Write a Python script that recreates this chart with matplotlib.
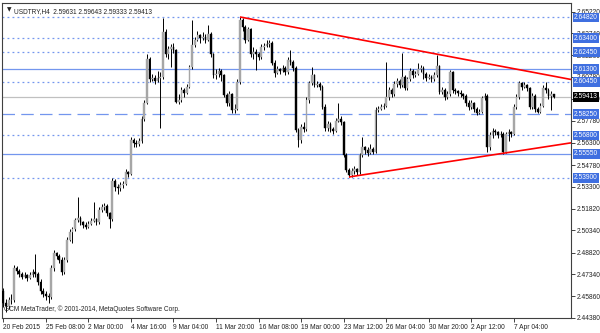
import matplotlib
matplotlib.use("Agg")
import matplotlib.pyplot as plt
import numpy as np

# ---------------- data ----------------
opens = [2.4620, 2.4540, 2.4520, 2.4560, 2.4560, 2.4780, 2.4760, 2.4740, 2.4720, 2.4730,
         2.4710, 2.4730, 2.4750, 2.4740, 2.4680, 2.4620, 2.4600, 2.4590, 2.4580, 2.4780,
         2.4880, 2.4860, 2.4830, 2.4750, 2.4830, 2.4970, 2.5025, 2.5040, 2.5105, 2.5120,
         2.5090, 2.5070, 2.5060, 2.5080, 2.5100, 2.5110, 2.5090, 2.5170, 2.5190, 2.5200,
         2.5150, 2.5110, 2.5370, 2.5330, 2.5320, 2.5340, 2.5350, 2.5430, 2.5420, 2.5650,
         2.5630, 2.5620, 2.5640, 2.5790, 2.5900, 2.6200, 2.6060, 2.6070, 2.6050, 2.6070,
         2.6080, 2.6380, 2.6230, 2.6270, 2.6280, 2.6260, 2.5910, 2.5920, 2.5990, 2.5970,
         2.6010, 2.6145, 2.6295, 2.6330, 2.6360, 2.6340, 2.6350, 2.6330, 2.6370, 2.6230,
         2.6090, 2.6100, 2.6120, 2.6090, 2.5955, 2.5900, 2.5960, 2.5850, 2.5860, 2.6045,
         2.6465, 2.6420, 2.6330, 2.6400, 2.6230, 2.6250, 2.6230, 2.6210, 2.6280, 2.6290,
         2.6300, 2.6310, 2.6175, 2.6105, 2.6130, 2.6120, 2.6140, 2.6110, 2.6195, 2.6180,
         2.6140, 2.5715, 2.5650, 2.5740, 2.5720, 2.5920, 2.6035, 2.6090, 2.6025, 2.6030,
         2.6010, 2.5875, 2.5730, 2.5760, 2.5720, 2.5710, 2.5780, 2.5790, 2.5770, 2.5545,
         2.5445, 2.5410, 2.5440, 2.5450, 2.5430, 2.5545, 2.5600, 2.5580, 2.5560, 2.5590,
         2.5570, 2.5855, 2.5860, 2.5870, 2.5880, 2.5940, 2.5990, 2.5960, 2.6030, 2.6050,
         2.6025, 2.6075, 2.6005, 2.6060, 2.6120, 2.6090, 2.6100, 2.6130, 2.6140, 2.6100,
         2.6070, 2.6080, 2.6060, 2.6090, 2.6150, 2.5975, 2.5990, 2.5940, 2.5960, 2.6110,
         2.5990, 2.5980, 2.5970, 2.5960, 2.5950, 2.5900, 2.5870, 2.5900, 2.5860, 2.5830,
         2.5840, 2.5935, 2.5950, 2.5600, 2.5680, 2.5710, 2.5700, 2.5680, 2.5690, 2.5565,
         2.5690, 2.5700, 2.5690, 2.5875, 2.5940, 2.6035, 2.6010, 2.6020, 2.6000, 2.5875,
         2.5950, 2.5860, 2.5840, 2.5880, 2.6005, 2.5990, 2.5950, 2.59631]

highs = [2.4640, 2.4570, 2.4580, 2.4600, 2.4800, 2.4790, 2.4770, 2.4750, 2.4750, 2.4740,
         2.4750, 2.4770, 2.4870, 2.4750, 2.4700, 2.4640, 2.4620, 2.4610, 2.4800, 2.4900,
         2.4890, 2.4870, 2.4850, 2.4850, 2.4990, 2.5040, 2.5060, 2.5120, 2.5260, 2.5130,
         2.5100, 2.5090, 2.5100, 2.5120, 2.5230, 2.5120, 2.5190, 2.5210, 2.5220, 2.5210,
         2.5160, 2.5390, 2.5380, 2.5350, 2.5360, 2.5370, 2.5450, 2.5440, 2.5670, 2.5660,
         2.5650, 2.5660, 2.5810, 2.5920, 2.6230, 2.6210, 2.6100, 2.6090, 2.6120, 2.6110,
         2.6480, 2.6400, 2.6290, 2.6300, 2.6310, 2.6270, 2.5960, 2.6010, 2.6000, 2.6030,
         2.6160, 2.6465, 2.6350, 2.6390, 2.6370, 2.6380, 2.6370, 2.6430, 2.6380, 2.6240,
         2.6130, 2.6140, 2.6130, 2.6100, 2.5970, 2.5980, 2.5970, 2.5890, 2.6060, 2.6485,
         2.6475, 2.6430, 2.6420, 2.6410, 2.6280, 2.6270, 2.6250, 2.6300, 2.6310, 2.6330,
         2.6330, 2.6320, 2.6190, 2.6150, 2.6140, 2.6160, 2.6150, 2.6210, 2.6260, 2.6190,
         2.6150, 2.5730, 2.5760, 2.5770, 2.5940, 2.6050, 2.6145, 2.6100, 2.6050, 2.6040,
         2.6020, 2.5890, 2.5780, 2.5770, 2.5740, 2.5800, 2.5900, 2.5810, 2.5780, 2.5560,
         2.5460, 2.5460, 2.5470, 2.5460, 2.5560, 2.5670, 2.5610, 2.5600, 2.5620, 2.5600,
         2.5870, 2.5880, 2.5890, 2.5900, 2.6180, 2.6010, 2.6000, 2.6050, 2.6070, 2.6060,
         2.6240, 2.6090, 2.6080, 2.6140, 2.6130, 2.6120, 2.6175, 2.6160, 2.6150, 2.6110,
         2.6100, 2.6090, 2.6110, 2.6225, 2.6160, 2.6010, 2.6000, 2.5980, 2.6125, 2.6120,
         2.6000, 2.5990, 2.5990, 2.5970, 2.5960, 2.5920, 2.5920, 2.5910, 2.5870, 2.5860,
         2.5950, 2.5970, 2.5960, 2.5700, 2.5730, 2.5720, 2.5710, 2.5710, 2.5700, 2.5700,
         2.5720, 2.5710, 2.5890, 2.5960, 2.6050, 2.6045, 2.6040, 2.6030, 2.6010, 2.5970,
         2.5960, 2.5870, 2.5900, 2.6020, 2.6040, 2.6000, 2.5980, 2.59643]

lows = [2.4510, 2.4480, 2.4500, 2.4530, 2.4550, 2.4740, 2.4720, 2.4700, 2.4710, 2.4690,
        2.4700, 2.4720, 2.4720, 2.4660, 2.4600, 2.4580, 2.4560, 2.4540, 2.4570, 2.4760,
        2.4840, 2.4810, 2.4730, 2.4740, 2.4820, 2.4960, 2.4950, 2.5030, 2.5090, 2.5070,
        2.5050, 2.5040, 2.5050, 2.5070, 2.5090, 2.5070, 2.5080, 2.5160, 2.5170, 2.5130,
        2.5050, 2.5100, 2.5300, 2.5280, 2.5300, 2.5320, 2.5340, 2.5400, 2.5410, 2.5600,
        2.5600, 2.5610, 2.5630, 2.5780, 2.5890, 2.6040, 2.6050, 2.6030, 2.6040, 2.5730,
        2.6060, 2.6210, 2.6200, 2.6145, 2.6240, 2.5900, 2.5890, 2.5910, 2.5940, 2.5960,
        2.6000, 2.6130, 2.6280, 2.6320, 2.6310, 2.6330, 2.6310, 2.6320, 2.6210, 2.6070,
        2.6060, 2.6080, 2.6050, 2.5940, 2.5880, 2.5880, 2.5833, 2.5833, 2.5850, 2.6030,
        2.6390, 2.6310, 2.6320, 2.6210, 2.6200, 2.6125, 2.6190, 2.6200, 2.6260, 2.6280,
        2.6280, 2.6160, 2.6080, 2.6100, 2.6100, 2.6110, 2.6090, 2.6100, 2.6160, 2.6120,
        2.5700, 2.5600, 2.5630, 2.5700, 2.5710, 2.5900, 2.6020, 2.6010, 2.6010, 2.5990,
        2.5860, 2.5710, 2.5710, 2.5700, 2.5690, 2.5700, 2.5770, 2.5750, 2.5530, 2.5430,
        2.5397, 2.5400, 2.5420, 2.5410, 2.5420, 2.5530, 2.5550, 2.5540, 2.5550, 2.5550,
        2.5560, 2.5840, 2.5850, 2.5860, 2.5870, 2.5920, 2.5940, 2.5950, 2.6010, 2.6000,
        2.6010, 2.5990, 2.5990, 2.6050, 2.6070, 2.6080, 2.6090, 2.6110, 2.6060, 2.6050,
        2.6060, 2.6040, 2.6050, 2.6080, 2.5960, 2.5960, 2.5920, 2.5930, 2.5950, 2.5970,
        2.5960, 2.5950, 2.5940, 2.5930, 2.5880, 2.5850, 2.5860, 2.5840, 2.5820, 2.5825,
        2.5830, 2.5920, 2.5567, 2.5580, 2.5660, 2.5680, 2.5660, 2.5670, 2.5555, 2.5560,
        2.5640, 2.5670, 2.5680, 2.5860, 2.5930, 2.5990, 2.6000, 2.5980, 2.5860, 2.5860,
        2.5840, 2.5830, 2.5830, 2.5870, 2.5970, 2.5930, 2.5853, 2.59333]

closes = [2.4540, 2.4520, 2.4560, 2.4560, 2.4780, 2.4760, 2.4740, 2.4720, 2.4730, 2.4710,
          2.4730, 2.4750, 2.4740, 2.4680, 2.4620, 2.4600, 2.4590, 2.4580, 2.4780, 2.4880,
          2.4860, 2.4830, 2.4750, 2.4830, 2.4970, 2.5025, 2.5040, 2.5105, 2.5120, 2.5090,
          2.5070, 2.5060, 2.5080, 2.5100, 2.5110, 2.5090, 2.5170, 2.5190, 2.5200, 2.5150,
          2.5110, 2.5370, 2.5330, 2.5320, 2.5340, 2.5350, 2.5430, 2.5420, 2.5650, 2.5630,
          2.5620, 2.5640, 2.5790, 2.5900, 2.6200, 2.6060, 2.6070, 2.6050, 2.6070, 2.6080,
          2.6380, 2.6230, 2.6270, 2.6280, 2.6260, 2.5910, 2.5920, 2.5990, 2.5970, 2.6010,
          2.6145, 2.6295, 2.6330, 2.6360, 2.6340, 2.6350, 2.6330, 2.6370, 2.6230, 2.6090,
          2.6100, 2.6120, 2.6090, 2.5955, 2.5900, 2.5960, 2.5850, 2.5860, 2.6045, 2.6465,
          2.6420, 2.6330, 2.6400, 2.6230, 2.6250, 2.6230, 2.6210, 2.6280, 2.6290, 2.6300,
          2.6310, 2.6175, 2.6105, 2.6130, 2.6120, 2.6140, 2.6110, 2.6195, 2.6180, 2.6140,
          2.5715, 2.5650, 2.5740, 2.5720, 2.5920, 2.6035, 2.6090, 2.6025, 2.6030, 2.6010,
          2.5875, 2.5730, 2.5760, 2.5720, 2.5710, 2.5780, 2.5790, 2.5770, 2.5545, 2.5445,
          2.5410, 2.5440, 2.5450, 2.5430, 2.5545, 2.5600, 2.5580, 2.5560, 2.5590, 2.5570,
          2.5855, 2.5860, 2.5870, 2.5880, 2.5940, 2.5990, 2.5960, 2.6030, 2.6050, 2.6025,
          2.6075, 2.6005, 2.6060, 2.6120, 2.6090, 2.6100, 2.6130, 2.6140, 2.6100, 2.6070,
          2.6080, 2.6060, 2.6090, 2.6150, 2.5975, 2.5990, 2.5940, 2.5960, 2.6110, 2.5990,
          2.5980, 2.5970, 2.5960, 2.5950, 2.5900, 2.5870, 2.5900, 2.5860, 2.5830, 2.5840,
          2.5935, 2.5950, 2.5600, 2.5680, 2.5710, 2.5700, 2.5680, 2.5690, 2.5565, 2.5690,
          2.5700, 2.5690, 2.5875, 2.5940, 2.6035, 2.6010, 2.6020, 2.6000, 2.5875, 2.5950,
          2.5860, 2.5840, 2.5880, 2.6005, 2.5990, 2.5950, 2.5963, 2.59413]

x_tick_bars = [0, 16, 32, 48, 64, 80, 96, 112, 128, 144, 160, 176, 192]
x_tick_labels = ["20 Feb 2015", "25 Feb 08:00", "2 Mar 00:00", "4 Mar 16:00", "9 Mar 04:00",
                 "11 Mar 20:00", "16 Mar 08:00", "19 Mar 00:00", "23 Mar 12:00",
                 "26 Mar 04:00", "30 Mar 20:00", "2 Apr 12:00", "7 Apr 04:00"]

y_ticks = [2.44380, 2.45860, 2.47340, 2.48820, 2.50340, 2.51820, 2.53300, 2.54780,
           2.56300, 2.57780, 2.59300, 2.60780, 2.62260, 2.63740, 2.65220]

levels = [2.64820, 2.63400, 2.62450, 2.61300, 2.60450, 2.58250, 2.56800, 2.55550, 2.53900]
level_styles = ["dotted", "dotted", "dotted", "solid", "dotted", "dashed", "dotted", "solid", "dotted"]

upper_line_bars = [89, 213.5]
upper_line_prices = [2.6485, 2.6060]
lower_line_bars = [130, 213.5]
lower_line_prices = [2.5397, 2.5629]

last_price = 2.59413
header = "USDTRY,H4  2.59631 2.59643 2.59333 2.59413"
footer = "GCM MetaTrader, \u00a9 2001-2014, MetaQuotes Software Corp."

# ---------------- plot ----------------
plt.rcParams['font.family'] = ['Liberation Sans', 'DejaVu Sans']
FS = 4.8
W, H = 600, 333
fig = plt.figure(figsize=(W / 100, H / 100), dpi=100)
ax = fig.add_axes([2 / W, 1 - 318 / H, (571 - 2) / W, (318 - 3) / H])
ax.set_xlim(-0.5, 213.5)
ax.set_ylim(2.44380, 2.6580)

blue_line = "#7396ee"
for lv, st in zip(levels, level_styles):
    if st == "dotted":
        ax.axhline(lv, color=blue_line, lw=0.9, ls=(0, (1.5, 2.5)), zorder=1)
    elif st == "dashed":
        ax.axhline(lv, color=blue_line, lw=0.9, ls=(0, (10, 5)), zorder=1)
    else:
        ax.axhline(lv, color=blue_line, lw=0.9, zorder=1)

ax.axhline(last_price, color="#c0c0c0", lw=0.9, zorder=1)

idx = np.arange(len(closes))
o = np.array(opens); c = np.array(closes); h = np.array(highs); l = np.array(lows)
up = c >= o
ax.vlines(idx, l, h, color="black", lw=0.7, zorder=2)
body_w = 0.65
ax.bar(idx[up], (c - o)[up], bottom=o[up], width=body_w, color="#a6a6a6",
       edgecolor="#a6a6a6", lw=0.3, zorder=3)
ax.bar(idx[~up], (o - c)[~up], bottom=c[~up], width=body_w, color="black",
       edgecolor="black", lw=0.3, zorder=3)

ax.plot(upper_line_bars, upper_line_prices, color="#ff0000", lw=1.2, zorder=4, solid_capstyle="butt")
ax.plot(lower_line_bars, lower_line_prices, color="#ff0000", lw=1.2, zorder=4, solid_capstyle="butt")

# axes styling
for side in ["left", "top", "bottom", "right"]:
    ax.spines[side].set_color("#404040")
    ax.spines[side].set_linewidth(0.8)
ax.yaxis.tick_right()
ax.set_yticks(y_ticks)
ax.set_yticklabels([f"{v:.5f}" for v in y_ticks], fontsize=FS)
ax.tick_params(axis="y", direction="out", length=3, width=0.6, pad=1.2, colors="#222222")
ax.set_xticks(x_tick_bars)
ax.set_xticklabels(x_tick_labels, fontsize=FS, ha="left")
ax.tick_params(axis="x", direction="out", length=3, width=0.6, pad=1.5, colors="#222222")

# level labels on the right axis
box_blue = "#3f6fe0"
for lv in levels:
    ax.annotate(f"{lv:.5f}", xy=(1, lv), xycoords=("axes fraction", "data"),
                xytext=(2.3, 0), textcoords="offset points", va="center", ha="left",
                fontsize=FS, color="white", zorder=10,
                bbox=dict(boxstyle="square,pad=0.2", fc=box_blue, ec=box_blue, lw=0))
ax.annotate(f"{last_price:.5f}", xy=(1, last_price), xycoords=("axes fraction", "data"),
            xytext=(2.3, 0), textcoords="offset points", va="center", ha="left",
            fontsize=FS, color="white", zorder=10,
            bbox=dict(boxstyle="square,pad=0.2", fc="black", ec="black", lw=0))

ax.text(0.008, 0.985, "\u25bc", transform=ax.transAxes, fontsize=4.2,
        va="top", ha="left", color="#222222", family=['DejaVu Sans'])
ax.text(0.021, 0.985, header, transform=ax.transAxes, fontsize=4.7,
        va="top", ha="left", color="#222222")
ax.text(0.004, 0.015, footer, transform=ax.transAxes, fontsize=4.7,
        va="bottom", ha="left", color="#222222")

fig.savefig("out.png", dpi=100, facecolor="white")
